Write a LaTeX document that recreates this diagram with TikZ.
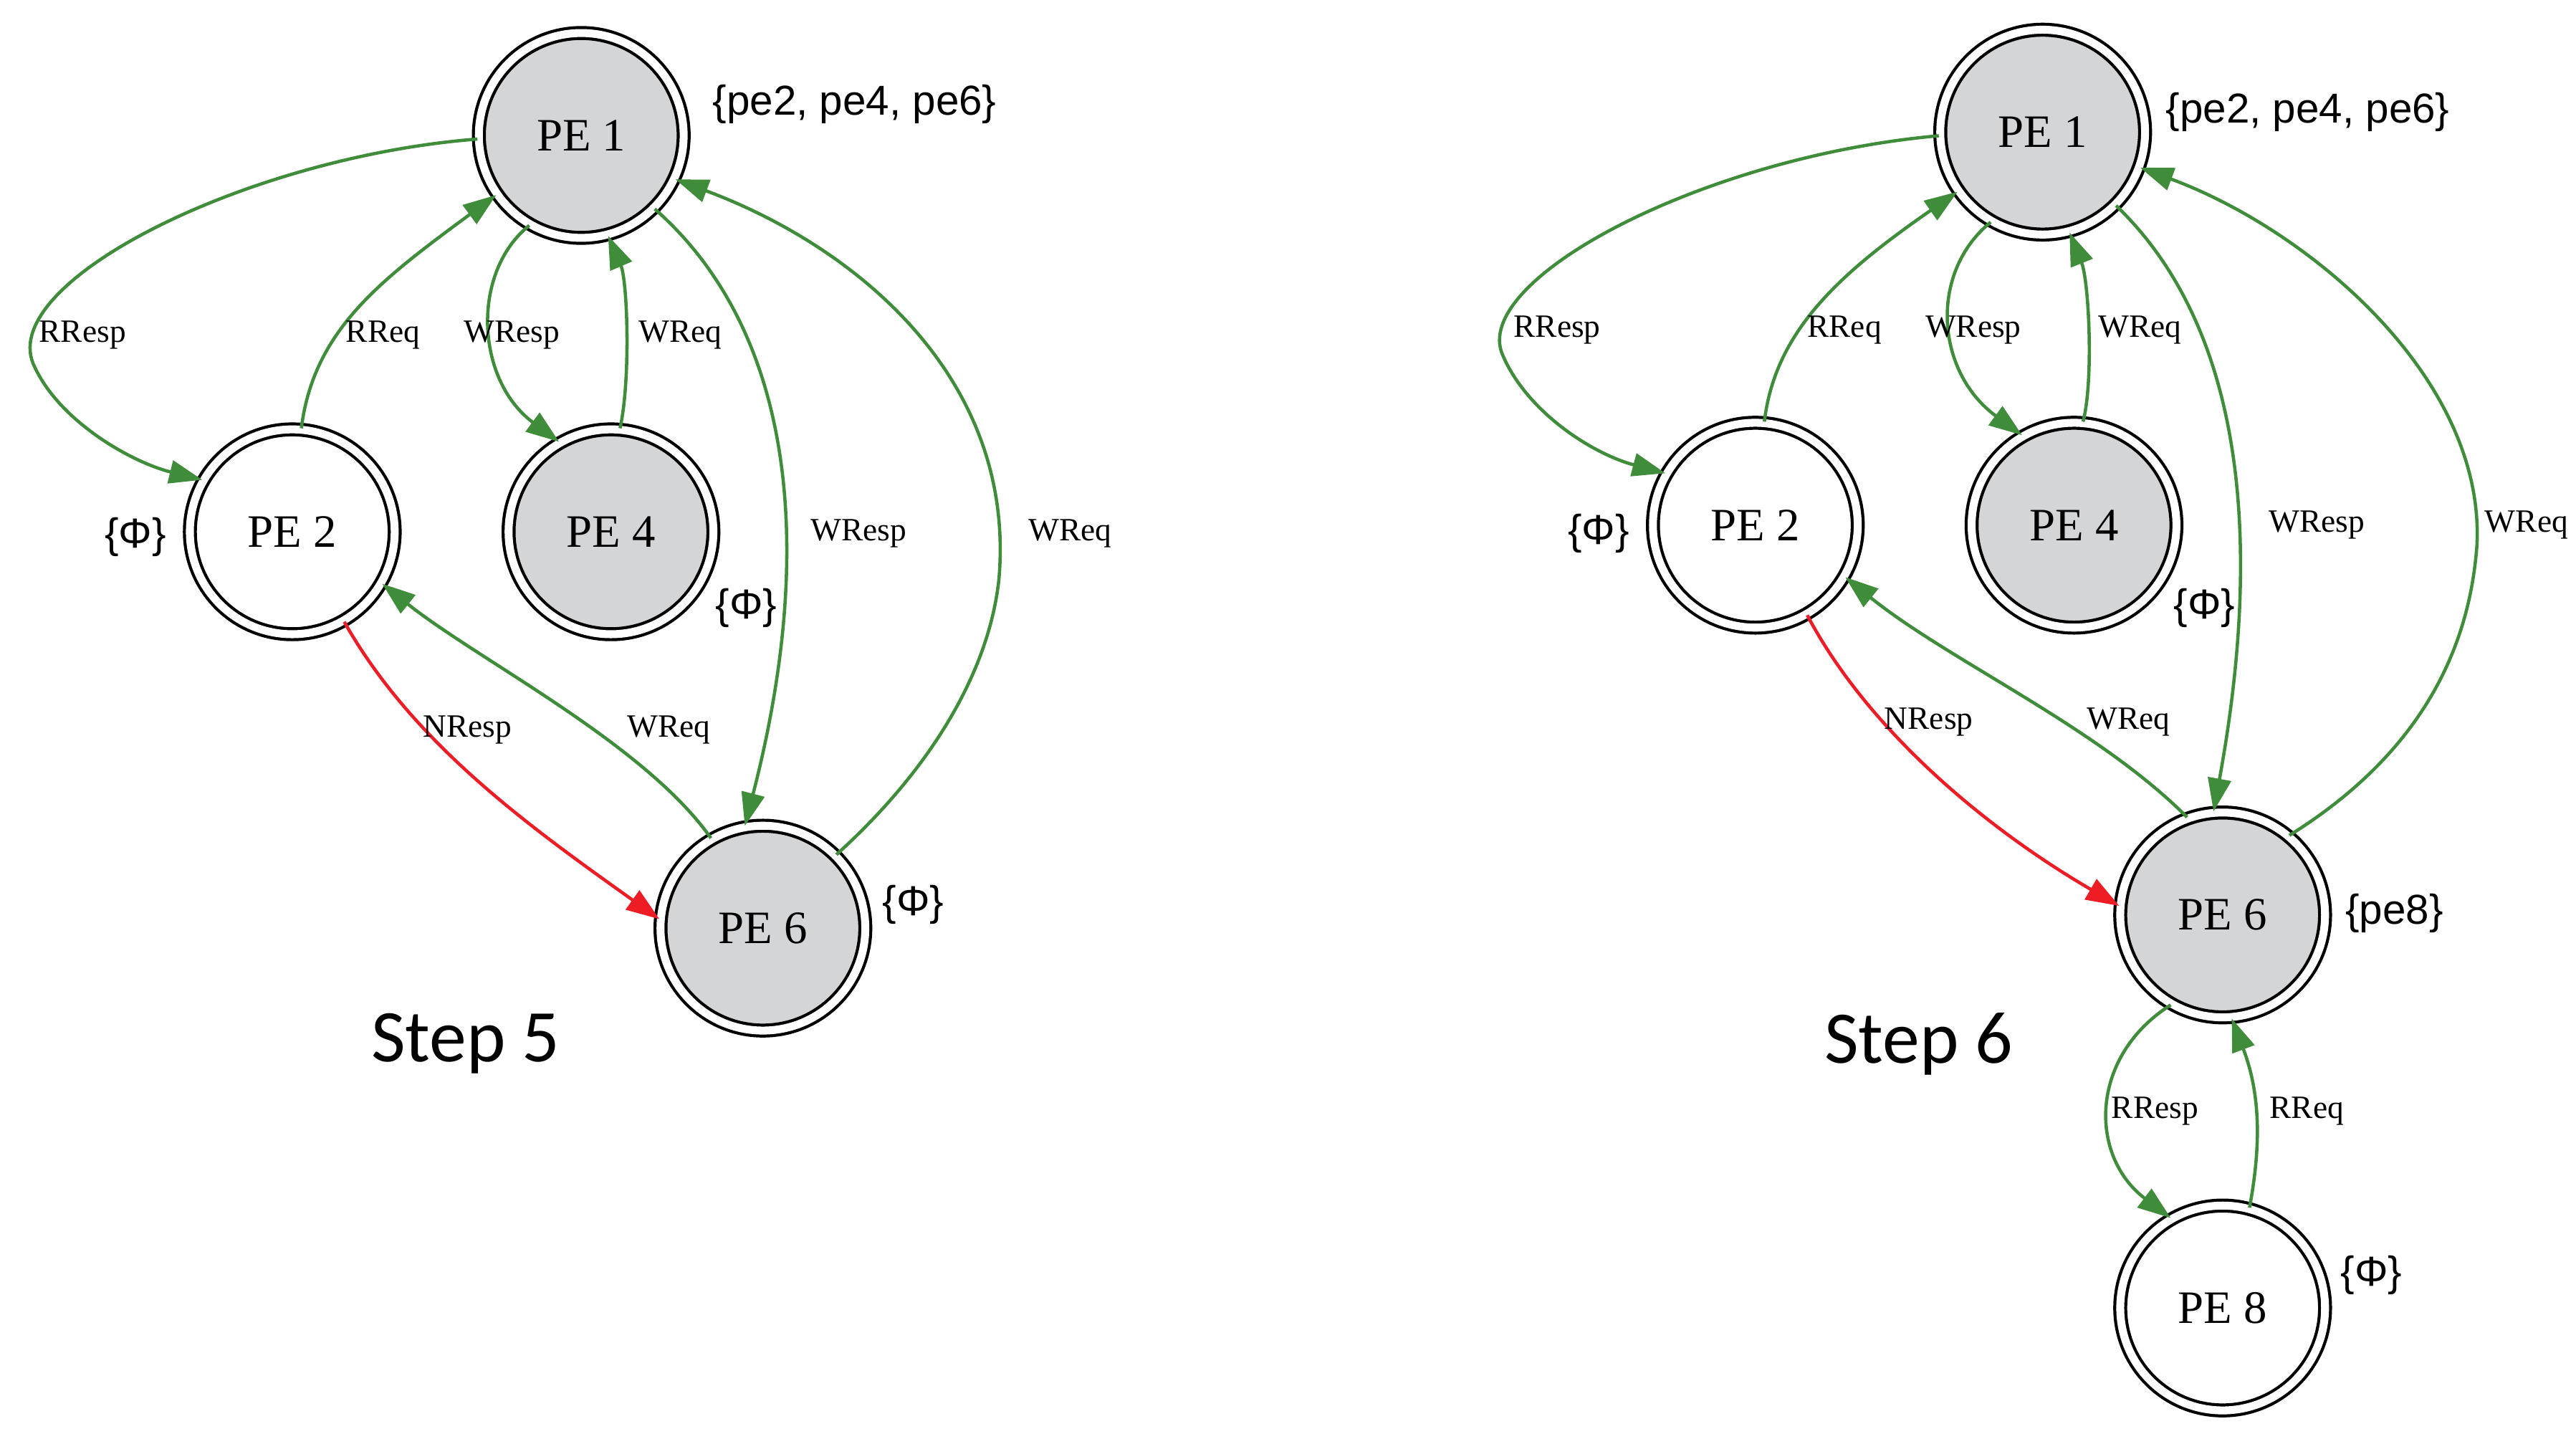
\documentclass[tikz,border=0pt]{standalone}
\usepackage{fontspec}
\setmainfont{Liberation Serif}
\newfontfamily\arfont{Liberation Sans}
\newfontfamily\calfont{Carlito}
\usetikzlibrary{arrows.meta}
\definecolor{eg}{HTML}{3F8C3A}
\definecolor{er}{HTML}{EE1C24}
\definecolor{fillg}{HTML}{D4D5D7}
\newcommand{\phiset}{\{Φ\}}
\begin{document}
\begin{tikzpicture}[x=0.025cm,y=-0.025cm,
 pe/.style={circle,draw=black,line width=1.3pt,double=white,double distance=1.2mm,minimum size=3.1cm,inner sep=0pt,font=\fontsize{20}{20}\selectfont},
 gr/.style={fill=fillg},
 ed/.style={draw=eg,line width=1.4pt,-{Triangle[length=5mm,width=3.5mm]}},
 re/.style={ed,draw=er},
 el/.style={font=\fontsize{14}{14}\selectfont,inner sep=1pt},
 sl/.style={font=\arfont\fontsize{18}{18}\selectfont,inner sep=1pt},
 st/.style={font=\calfont\fontsize{32}{32}\selectfont}]
\useasboundingbox (0,0) rectangle (1560,871);
% Step 5
\node[pe,gr] (a1) at (352,82) {PE 1};
\node[pe] (a2) at (177,322) {PE 2};
\node[pe,gr] (a4) at (370,322) {PE 4};
\node[pe,gr] (a6) at (462,562) {PE 6};
\node[sl,anchor=west] (sa1) at (430,63) {\{pe2, pe4, pe6\}};
\node[sl] (sa2) at (82,325) {\phiset};
\node[sl] (sa4) at (452,368) {\phiset};
\node[sl] (sa6) at (553,548) {\phiset};
\node[st] (t5) at (282,632) {Step 5};
\draw[ed] (a1.182) .. controls (150,95) and (0,170) .. (20,220) .. controls (35,255) and (80,280) .. (a2.150);
\draw[ed] (a2.85) .. controls (190,200) and (230,170) .. (a1.215);
\draw[ed] (a1.240) .. controls (285,165) and (288,230) .. (a4.120);
\draw[ed] (a4.85) .. controls (382,230) and (380,170) .. (a1.285);
\draw[ed] (a1.315) .. controls (480,200) and (495,330) .. (a6.100);
\draw[ed] (a6.45) .. controls (570,460) and (600,400) .. (605,350) .. controls (615,230) and (520,150) .. (a1.335);
\draw[re] (a2.300) .. controls (250,450) and (320,500) .. (a6.175);
\draw[ed] (a6.120) .. controls (390,450) and (290,400) .. (a2.330);
\node[el] (l1) at (50,203) {RResp};
\node[el] (l2) at (232,203) {RReq};
\node[el] (l3) at (310,203) {WResp};
\node[el] (l4) at (412,203) {WReq};
\node[el] (l5) at (520,323) {WResp};
\node[el] (l6) at (648,323) {WReq};
\node[el] (l7) at (283,442) {NResp};
\node[el] (l8) at (405,442) {WReq};
% Step 6
\node[pe,gr] (b1) at (1237,80) {PE 1};
\node[pe] (b2) at (1063,318) {PE 2};
\node[pe,gr] (b4) at (1256,318) {PE 4};
\node[pe,gr] (b6) at (1346,554) {PE 6};
\node[pe] (b8) at (1346,792) {PE 8};
\node[sl,anchor=west] (sb1) at (1310,68) {\{pe2, pe4, pe6\}};
\node[sl] (sb2) at (968,323) {\phiset};
\node[sl] (sb4) at (1335,368) {\phiset};
\node[sl] (sb6) at (1450,553) {\{pe8\}};
\node[sl] (sb8) at (1436,772) {\phiset};
\node[st] (t6) at (1162,632) {Step 6};
\draw[ed] (b1.182) .. controls (1030,95) and (890,170) .. (910,215) .. controls (925,250) and (965,275) .. (b2.150);
\draw[ed] (b2.85) .. controls (1075,200) and (1115,165) .. (b1.215);
\draw[ed] (b1.240) .. controls (1168,165) and (1172,225) .. (b4.120);
\draw[ed] (b4.85) .. controls (1268,230) and (1265,170) .. (b1.285);
\draw[ed] (b1.315) .. controls (1360,200) and (1370,330) .. (b6.95);
\draw[ed] (b6.50) .. controls (1460,460) and (1495,400) .. (1500,330) .. controls (1505,230) and (1400,140) .. (b1.340);
\draw[re] (b2.300) .. controls (1130,440) and (1200,500) .. (b6.175);
\draw[ed] (b6.110) .. controls (1270,440) and (1180,400) .. (b2.330);
\draw[ed] (b6.240) .. controls (1265,640) and (1265,700) .. (b8.120);
\draw[ed] (b8.75) .. controls (1370,690) and (1368,660) .. (b6.275);
\node[el] (m1) at (943,200) {RResp};
\node[el] (m2) at (1117,200) {RReq};
\node[el] (m3) at (1195,200) {WResp};
\node[el] (m4) at (1296,200) {WReq};
\node[el] (m5) at (1403,318) {WResp};
\node[el] (m6) at (1530,318) {WReq};
\node[el] (m7) at (1168,437) {NResp};
\node[el] (m8) at (1289,437) {WReq};
\node[el] (m9) at (1305,673) {RResp};
\node[el] (m10) at (1397,673) {RReq};
\end{tikzpicture}
\end{document}
